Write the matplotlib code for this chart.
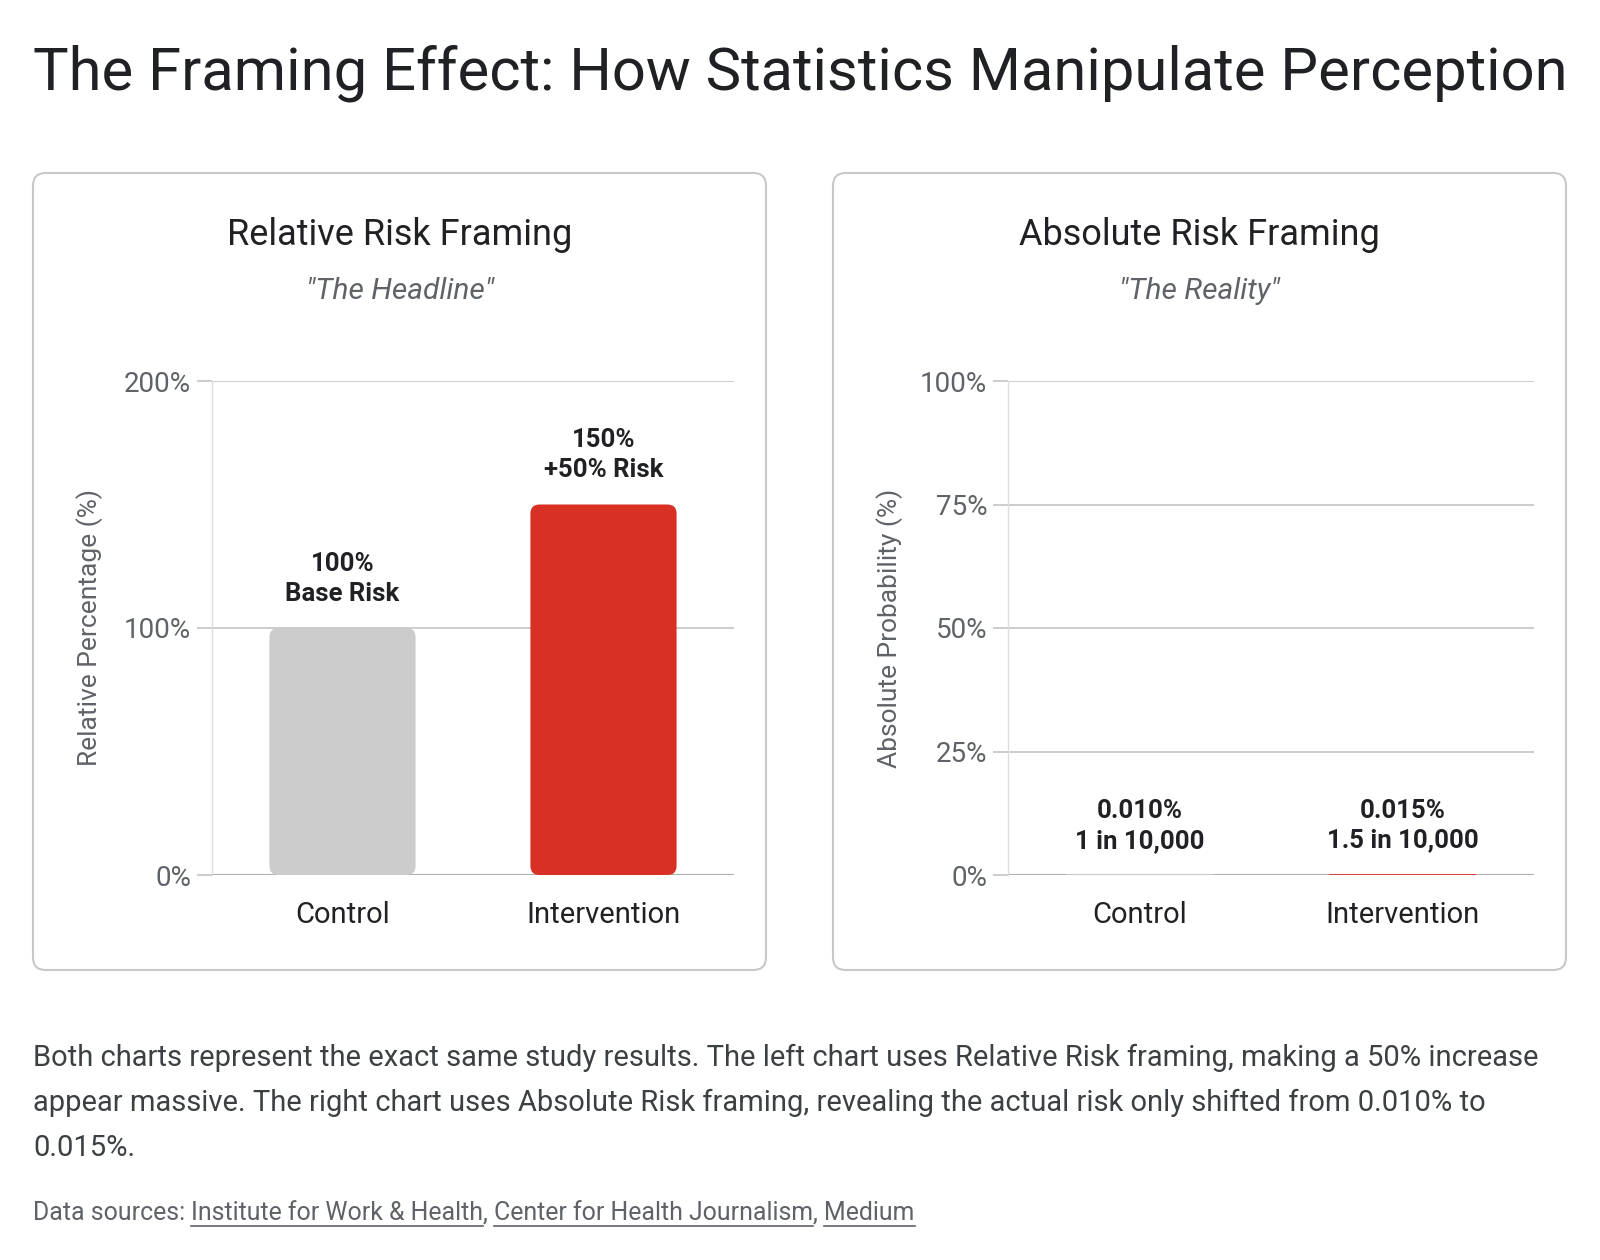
import matplotlib
matplotlib.use("Agg")
import matplotlib.pyplot as plt
from matplotlib.patches import FancyBboxPatch
from matplotlib.lines import Line2D
import matplotlib.patches as mpatches

plt.rcParams['font.family'] = ['Roboto', 'DejaVu Sans']

# ---------------- data ----------------
categories = ["Control", "Intervention"]
relative_values = [100, 150]
relative_labels = ["100%\nBase Risk", "150%\n+50% Risk"]
relative_ticks = [0, 100, 200]
relative_ticklabels = ["0%", "100%", "200%"]

absolute_values = [0.010, 0.015]
absolute_labels = ["0.010%\n1 in 10,000", "0.015%\n1.5 in 10,000"]
absolute_ticks = [0, 25, 50, 75, 100]
absolute_ticklabels = ["0%", "25%", "50%", "75%", "100%"]

bar_colors = ["#cccccc", "#d93025"]

title = "The Framing Effect: How Statistics Manipulate Perception"
panel_titles = ["Relative Risk Framing", "Absolute Risk Framing"]
panel_subtitles = ['"The Headline"', '"The Reality"']
y_labels = ["Relative Percentage (%)", "Absolute Probability (%)"]
caption_lines = [
    "Both charts represent the exact same study results. The left chart uses Relative Risk framing, making a 50% increase",
    "appear massive. The right chart uses Absolute Risk framing, revealing the actual risk only shifted from 0.010% to",
    "0.015%.",
]
source_prefix = "Data sources: "
sources = ["Institute for Work & Health", "Center for Health Journalism", "Medium"]

# ---------------- layout ----------------
W, H = 1600, 1260
fig = plt.figure(figsize=(W / 100, H / 100), dpi=100)
fig.patch.set_facecolor("white")


def fx(px):
    return px / W


def fy(py):
    return 1 - py / H


DARK = "#202124"
GREY = "#5f6368"
GRID = "#c8c8c8"

# title
fig.text(fx(33), fy(90), title, fontsize=43, color=DARK, ha="left", va="baseline")

panel_boxes = [(33, 173, 766, 970), (833, 173, 1566, 970)]
axes_px = [(212, 381, 734, 875), (1008, 381, 1534, 875)]
ylabel_x = [90, 890]

for i in range(2):
    bx0, by0, bx1, by1 = panel_boxes[i]
    box = FancyBboxPatch((fx(bx0), fy(by1)), fx(bx1) - fx(bx0), fy(by0) - fy(by1),
                         boxstyle="round,pad=0,rounding_size=0.008",
                         mutation_aspect=W / H,
                         transform=fig.transFigure, facecolor="white",
                         edgecolor="#c8c8c8", linewidth=1.5, zorder=-5)
    fig.patches.append(box)
    cx = (bx0 + bx1) / 2
    fig.text(fx(cx), fy(235), panel_titles[i], fontsize=26, color=DARK,
             ha="center", va="center")
    fig.text(fx(cx), fy(291), panel_subtitles[i], fontsize=21.5, color=GREY,
             ha="center", va="center", style="italic")

for i in range(2):
    ax0, ay0, ax1, ay1 = axes_px[i]
    ax = fig.add_axes([fx(ax0), fy(ay1), fx(ax1) - fx(ax0), fy(ay0) - fy(ay1)])
    ax.set_facecolor("none")
    if i == 0:
        vals, labels, ticks, tlabels, ymax = relative_values, relative_labels, relative_ticks, relative_ticklabels, 200
    else:
        vals, labels, ticks, tlabels, ymax = absolute_values, absolute_labels, absolute_ticks, absolute_ticklabels, 100
    xs = list(range(len(categories)))
    ax.set_xlim(-0.5, len(categories) - 0.5)
    ax.set_ylim(0, ymax)
    bars = ax.bar(xs, vals, width=0.56, color=bar_colors, zorder=3)
    if i == 0:
        pxx = (ax1 - ax0) / 2.0
        pxy = (ay1 - ay0) / ymax
        r_px = 9
        for rect in list(bars):
            x, y = rect.get_x(), rect.get_y()
            w, h = rect.get_width(), rect.get_height()
            fc = rect.get_facecolor()
            rect.remove()
            p = FancyBboxPatch((x, y), w, h,
                               boxstyle=mpatches.BoxStyle.Round(pad=0, rounding_size=r_px / pxx),
                               mutation_aspect=pxx / pxy,
                               facecolor=fc, edgecolor="none", zorder=3)
            ax.add_patch(p)
    else:
        for rect, c in zip(bars, bar_colors):
            rect.set_edgecolor(c)
            rect.set_linewidth(1.2)
    for xi, v, lab in zip(xs, vals, labels):
        ax.annotate(lab, (xi, v), xytext=(0, 16), textcoords="offset points",
                    ha="center", va="bottom", fontsize=18.5, fontweight="semibold",
                    color=DARK, linespacing=1.32, zorder=5)
    ax.set_yticks(ticks)
    ax.set_yticklabels(tlabels)
    ax.set_xticks(xs)
    ax.set_xticklabels(categories)
    ax.grid(axis="y", color=GRID, linewidth=1.3, zorder=0)
    ax.set_axisbelow(True)
    for s in ["top", "right", "bottom"]:
        ax.spines[s].set_visible(False)
    ax.spines["left"].set_color("#dddddd")
    ax.spines["left"].set_linewidth(1.0)
    ax.axhline(0, color="#b0b0b0", linewidth=1.5, zorder=2)
    ax.tick_params(axis="y", length=11, width=1.3, color=GRID, labelsize=20,
                   labelcolor=GREY, pad=4)
    ax.tick_params(axis="x", length=0, labelsize=21, labelcolor=DARK, pad=19)
    ax.set_ylabel(y_labels[i], fontsize=19, color=GREY, va="center")
    ax.yaxis.set_label_coords(-(ax0 - ylabel_x[i]) / (ax1 - ax0), 0.5)

# caption
for k, line in enumerate(caption_lines):
    fig.text(fx(33), fy(1058 + 45 * k), line, fontsize=21, color="#3c4043",
             ha="left", va="center")

# sources
fig.canvas.draw()
renderer = fig.canvas.get_renderer()
x_cur = 33
ybase = 1213
FS = 17.9
t = fig.text(fx(x_cur), fy(ybase), source_prefix, fontsize=FS, color=GREY,
             ha="left", va="center")
bb = t.get_window_extent(renderer)
x_cur += bb.width
for j, s in enumerate(sources):
    t = fig.text(fx(x_cur), fy(ybase), s, fontsize=FS, color=GREY, ha="left", va="center")
    bb = t.get_window_extent(renderer)
    fig.add_artist(Line2D([fx(x_cur), fx(x_cur + bb.width)], [fy(ybase + 13), fy(ybase + 13)],
                          transform=fig.transFigure, color=GREY, linewidth=1.2))
    x_cur += bb.width
    if j < len(sources) - 1:
        t = fig.text(fx(x_cur), fy(ybase), ", ", fontsize=FS, color=GREY, ha="left", va="center")
        bb = t.get_window_extent(renderer)
        x_cur += bb.width

fig.savefig("out.png", dpi=100, facecolor="white")
